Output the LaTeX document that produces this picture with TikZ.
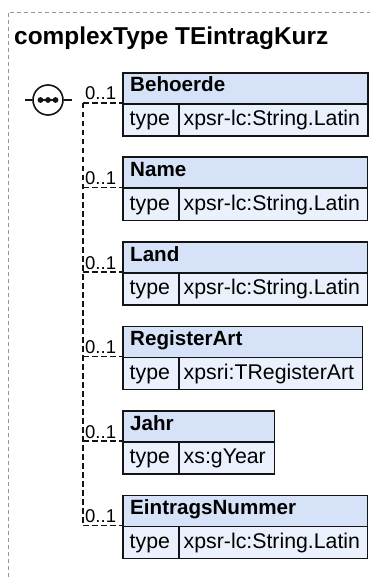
\documentclass[tikz,border=0pt]{standalone}
\usepackage{fontspec}
\setmainfont{Liberation Sans}
\definecolor{hdrfill}{RGB}{213,226,247}
\definecolor{rowfill}{RGB}{235,241,252}
\definecolor{framegray}{RGB}{150,150,150}
\definecolor{ink}{RGB}{20,20,20}
\tikzset{
  hdrbox/.style={draw=ink, line width=1.6pt, fill=hdrfill, rectangle, anchor=north west, inner sep=0pt, minimum height=31pt},
  rowbox/.style={draw=ink, line width=1.6pt, fill=rowfill, rectangle, anchor=north west, inner sep=0pt, minimum height=32pt},
  nametext/.style={anchor=base west, inner sep=0pt, font=\bfseries\fontsize{20.6}{24}\selectfont, text=black},
  valtext/.style={anchor=base west, inner sep=0pt, font=\fontsize{21.3}{24}\selectfont, text=black},
  occtext/.style={anchor=base west, inner sep=0pt, font=\fontsize{18.5}{20}\selectfont, text=black},
  conn/.style={draw=ink, line width=1.5pt, dash pattern=on 5.5pt off 3.5pt},
  frameline/.style={draw=framegray, line width=0.8pt, dash pattern=on 4pt off 3pt},
}
\newcommand\xsdelem[5]{%
  \node[hdrbox, minimum width=#3pt] (#1h) at (122,#2) {};
  \node[rowbox, minimum width=56pt] (#1t) at (122,{#2+31}) {};
  \node[rowbox, minimum width=#3pt-56pt] (#1v) at (178,{#2+31}) {};
  \node[nametext] (#1n) at (130,{#2+20}) {#4};
  \node[valtext] (#1k) at (129.5,{#2+53.5}) {type};
  \node[valtext] (#1w) at (183.5,{#2+53.5}) {#5};
  \node[occtext] (#1o) at (85,{#2+28}) {0..1};
}
\begin{document}
\begin{tikzpicture}[x=1pt,y=-1pt]
\useasboundingbox (0,0) rectangle (370,577);
% outer frame
\coordinate (fa) at (8,577);
\coordinate (fb) at (8,12);
\coordinate (fc) at (370,12);
\draw[frameline] (fa) -- (fb) -- (fc);
% title
\node[anchor=base west, inner sep=0pt, font=\bfseries\fontsize{24.4}{28}\selectfont] (title) at (14,45) {complexType TEintragKurz};
% elements
\xsdelem{b1}{72}{245}{Behoerde}{xpsr-lc:String.Latin}
\xsdelem{b2}{156.5}{244.5}{Name}{xpsr-lc:String.Latin}
\xsdelem{b3}{241}{244.5}{Land}{xpsr-lc:String.Latin}
\xsdelem{b4}{325.5}{239.5}{RegisterArt}{xpsri:TRegisterArt}
\xsdelem{b5}{410}{151.5}{Jahr}{xs:gYear}
\xsdelem{b6}{494.5}{244.5}{EintragsNummer}{xpsr-lc:String.Latin}
% sequence compositor
\node[circle, draw=ink, line width=1.6pt, fill=white, minimum size=30pt, inner sep=0pt] (seq) at (48,100) {};
\coordinate (sl) at (25,100);
\coordinate (sr) at (72,100);
\draw[draw=ink, line width=1.6pt] (sl) -- (seq.west);
\draw[draw=ink, line width=1.6pt] (seq.east) -- (sr);
\draw[draw=ink, line width=1.8pt] (39,100) -- (57,100);
\fill[ink] (40.5,100) circle (2.9pt) (48,100) circle (2.9pt) (55.5,100) circle (2.9pt);
% connectors
\coordinate (j) at (83,103);
\draw[conn] (j) -- (j |- b6t.north west);
\foreach \e in {b1,b2,b3,b4,b5,b6}{
  \draw[conn] (j |- \e t.north west) -- (\e t.north west);
}
\end{tikzpicture}
\end{document}
